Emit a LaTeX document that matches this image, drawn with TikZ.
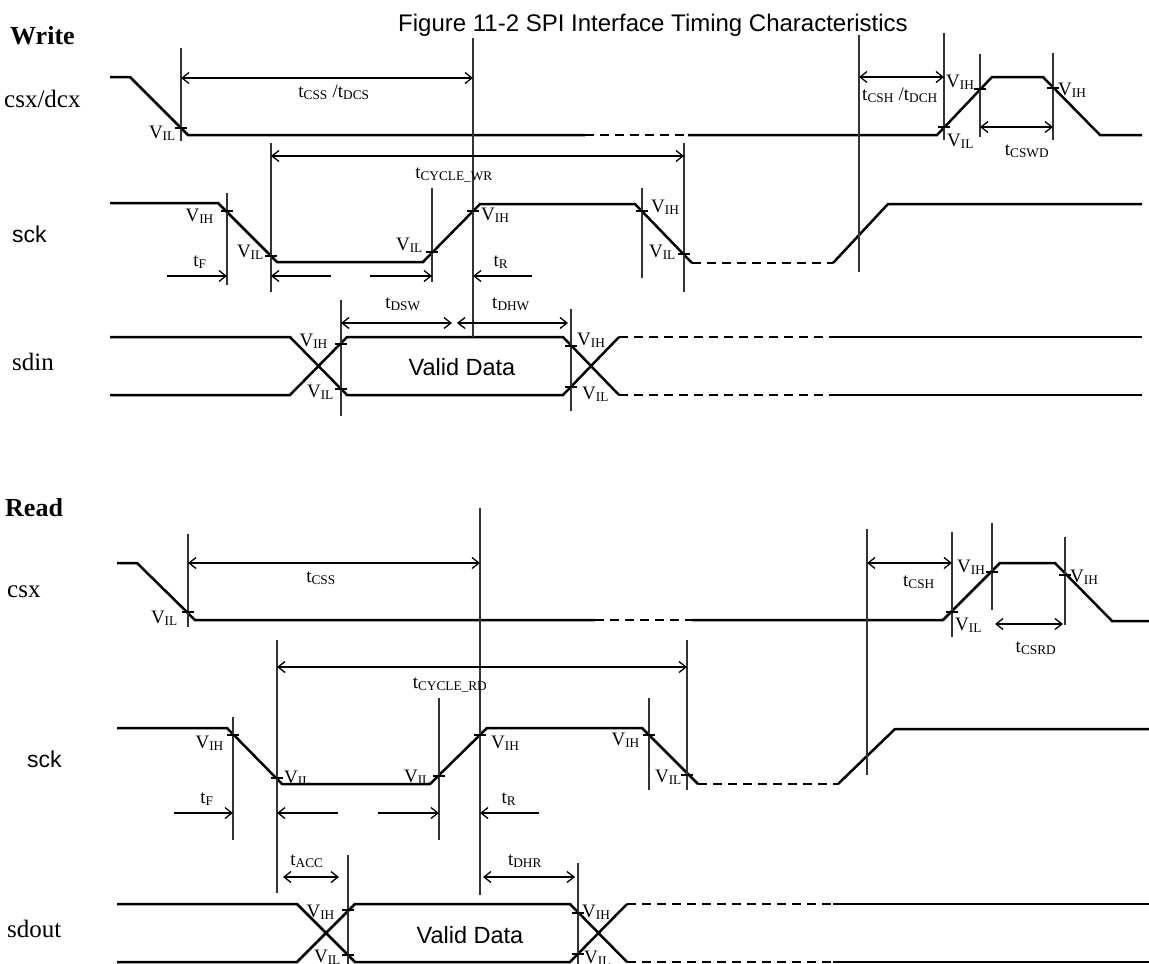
\documentclass[tikz,border=0pt]{standalone}
\usepackage{fontspec}
\setmainfont{Liberation Serif}
\newfontfamily\arialfont{Liberation Sans}
\usetikzlibrary{arrows.meta}
\newcommand{\VIH}{V\textsubscript{IH}}
\newcommand{\VIL}{V\textsubscript{IL}}
\newcommand{\tsub}[1]{t\textsubscript{#1}}

\begin{document}
\begin{tikzpicture}
[x=1pt,y=-1pt,
  >={Straight Barb[length=7pt,width=11pt,line width=1.3pt]},
  wavedecorate/.style={line width=2.5pt},
  dashdecorate/.style={line width=2.5pt,dash pattern=on 9pt off 6pt},
  guidedecorate/.style={line width=1.3pt,black!80},
  tickdecorate/.style={line width=1.3pt},
  dimdecorate/.style={line width=2.4pt},
  textdecorate/.style={inner sep=0pt,font=\fontsize{19}{20}\selectfont},
  namedecorate/.style={inner sep=0pt,anchor=base west,font=\fontsize{25}{26}\selectfont},
  sansdecorate/.style={inner sep=0pt,font=\arialfont\fontsize{23.5}{25}\selectfont},
  headdecorate/.style={inner sep=0pt,anchor=base west,font=\bfseries\fontsize{26}{27}\selectfont}]
\useasboundingbox (0,0) rectangle (1149,964);
%% headings and signal names
\node[sansdecorate,anchor=base west,font=\arialfont\fontsize{24}{25}\selectfont] (title) at (398,31) {Figure 11-2 SPI Interface Timing Characteristics};
\node[headdecorate] (write) at (10,44) {Write};
\node[headdecorate] (read) at (5,516) {Read};
\node[namedecorate] (wcsx) at (4,107) {csx/dcx};
\node[sansdecorate,anchor=base west,font=\arialfont\fontsize{23}{24}\selectfont] (wsck) at (12,242) {sck};
\node[namedecorate] (wsdin) at (12,370) {sdin};
\node[namedecorate] (rcsx) at (7,597) {csx};
\node[sansdecorate,anchor=base west,font=\arialfont\fontsize{23}{24}\selectfont] (rsck) at (27,767) {sck};
\node[namedecorate] (rsdout) at (7,937) {sdout};
\node[sansdecorate,anchor=base] (wvalid) at (462,375) {Valid Data};
\node[sansdecorate,anchor=base] (rvalid) at (470,943) {Valid Data};
%% waveforms, write
\draw[wavedecorate] (110,77) -- (130,77) -- (188,135) -- (585,135);
\draw[dashdecorate] (585,135) -- (688,135);
\draw[wavedecorate] (688,135) -- (937,135) -- (992,77) -- (1043,77) -- (1100,135) -- (1142,135);
\draw[wavedecorate] (110,203) -- (218,203) -- (277,262) -- (423,262) -- (480,204) -- (635,204) -- (692,263);
\draw[dashdecorate] (692,263) -- (833,263);
\draw[wavedecorate] (833,263) -- (888,204) -- (1142,204);
\draw[wavedecorate] (110,337) -- (290,337) -- (347,395) -- (563,395) -- (619,337);
\draw[wavedecorate] (110,395) -- (290,395) -- (347,337) -- (563,337) -- (619,395);
\draw[dashdecorate] (619,337) -- (833,337) (619,395) -- (833,395);
\draw[wavedecorate] (833,337) -- (1142,337) (833,395) -- (1142,395);
%% waveforms, read
\draw[wavedecorate] (117,563) -- (137,563) -- (195,620) -- (595,620);
\draw[dashdecorate] (595,620) -- (692,620);
\draw[wavedecorate] (692,620) -- (943,620) -- (1000,563) -- (1055,563) -- (1112,621) -- (1149,621);
\draw[wavedecorate] (117,728) -- (227,728) -- (282,784) -- (430,784) -- (487,728) -- (642,728) -- (698,784);
\draw[dashdecorate] (698,784) -- (838,784);
\draw[wavedecorate] (838,784) -- (895,729) -- (1149,729);
\draw[wavedecorate] (117,904) -- (297,904) -- (355,962) -- (570,962) -- (627,904);
\draw[wavedecorate] (117,962) -- (297,962) -- (355,904) -- (570,904) -- (627,962);
\draw[dashdecorate] (627,904) -- (833,904) (627,962) -- (833,962);
\draw[wavedecorate] (833,904) -- (1149,904) (833,962) -- (1149,962);
%% guide lines
\foreach \x/\ya/\yb in {181/48/141, 473/38/337, 859/35/272, 944/33/140, 980/54/137, 1053/53/140,
  227/193/285, 271/143/292, 432/188/282, 642/188/278, 684/143/292, 341/300/416, 571/309/411,
  188/534/627, 480/508/895, 867/529/775, 952/532/637, 992/523/610, 1065/537/625,
  233/717/840, 277/640/893, 439/698/840, 649/698/790, 687/640/790, 348/855/964, 578/863/964} {
  \draw[guidedecorate] (\x,\ya) -- (\x,\yb);
}
%% threshold ticks
\foreach \x/\y in {181/128, 944/127, 980/89, 1053/88, 227/211, 271/256, 432/252, 473/211,
  642/211, 684/254, 341/344, 341/389, 571/346, 571/387,
  188/612, 952/612, 992/572, 1065/575, 233/735, 277/778, 439/776, 480/735,
  649/735, 687/775, 348/910, 348/955, 578/913, 578/954} {
  \draw[tickdecorate] (\x-6,\y) -- (\x+6,\y);
}
%% threshold labels
\foreach \x/\y/\anc/\txt [count=\k] in {176/138/base east/\VIL, 946/87/base west/\VIH,
  947/146/base west/\VIL, 1058/95/base west/\VIH, 214/221/base east/\VIH, 264/257/base east/\VIL,
  423/250/base east/\VIL, 481/220/base west/\VIH, 651/212/base west/\VIH, 676/257/base east/\VIL,
  328/346/base east/\VIH, 334/397/base east/\VIL, 577/345/base west/\VIH, 582/399/base west/\VIL,
  178/623/base east/\VIL, 957/572/base west/\VIH, 955/630/base west/\VIL, 1070/582/base west/\VIH,
  224/748/base east/\VIH, 284/783/base west/\VIL, 431/782/base east/\VIL, 491/748/base west/\VIH,
  640/745/base east/\VIH, 682/782/base east/\VIL, 335/917/base east/\VIH, 341/962/base east/\VIL,
  582/917/base west/\VIH, 584/963/base west/\VIL} {
  \node[textdecorate,anchor=\anc] (v\k) at (\x,\y) {\txt};
}
%% timing labels
\foreach \x/\y/\txt [count=\k] in {334/97/{\tsub{CSS} /\tsub{DCS}}, 454/178/\tsub{CYCLE\_WR},
  900/100/{\tsub{CSH} /\tsub{DCH}}, 1027/155/\tsub{CSWD}, 200/266/\tsub{F}, 501/266/\tsub{R},
  403/308/\tsub{DSW}, 511/308/\tsub{DHW}, 321/582/\tsub{CSS}, 919/586/\tsub{CSH},
  1036/652/\tsub{CSRD}, 450/688/\tsub{CYCLE\_RD}, 207/803/\tsub{F}, 509/803/\tsub{R},
  307/865/\tsub{ACC}, 525/865/\tsub{DHR}} {
  \node[textdecorate,anchor=base] (t\k) at (\x,\y) {\txt};
}
%% double arrows
\foreach \xa/\xb/\y [count=\k] in {181/473/78, 271/684/156, 859/944/77, 980/1053/127,
  341/452/323, 457/568/323, 188/480/563, 277/687/667, 867/952/563, 995/1063/624,
  283/339/877, 483/575/877} {
  \coordinate (dimA\k) at (\xa,\y);
  \coordinate (dimB\k) at (\xb,\y);
  \draw[dimdecorate,<->] (dimA\k) -- (dimB\k);
}
%% single arrows
\foreach \xa/\xb/\y [count=\k] in {167/227/276, 331/271/276, 370/432/276, 532/473/276,
  174/233/813, 338/277/813, 378/439/813, 539/480/813} {
  \coordinate (edgeA\k) at (\xa,\y);
  \coordinate (edgeB\k) at (\xb,\y);
  \draw[dimdecorate,->] (edgeA\k) -- (edgeB\k);
}
\end{tikzpicture}
\end{document}
